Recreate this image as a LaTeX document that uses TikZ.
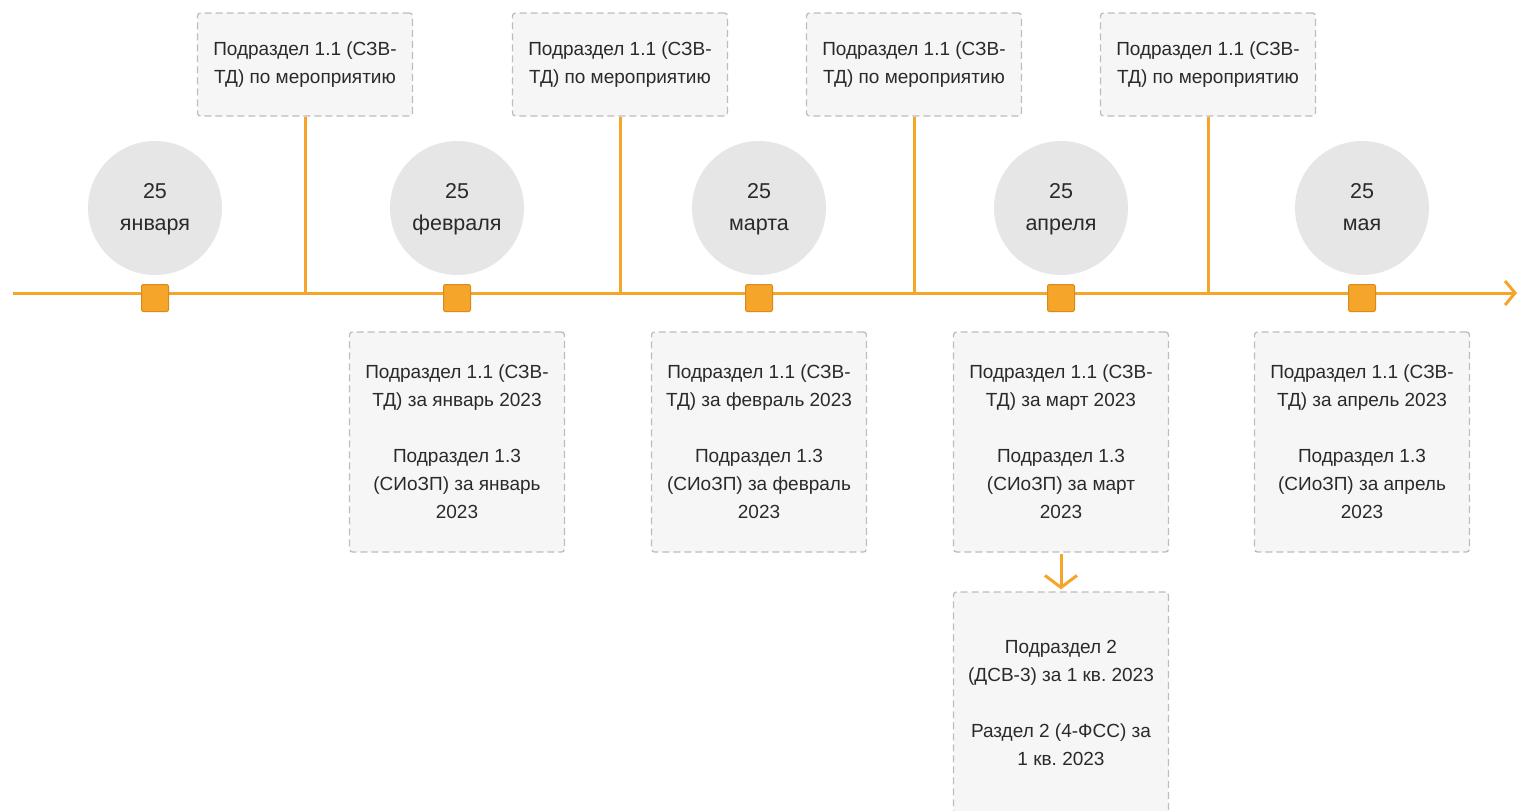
\documentclass[tikz,border=0pt]{standalone}
\usepackage{fontspec}
\setmainfont{Liberation Sans}
\usetikzlibrary{arrows.meta}
\frenchspacing
\definecolor{org}{HTML}{F5A52A}
\definecolor{orgd}{HTML}{D98A1A}
\definecolor{boxfill}{HTML}{F6F6F6}
\definecolor{boxline}{HTML}{BDBDBD}
\definecolor{circfill}{HTML}{E6E6E6}
\definecolor{txt}{HTML}{2A2A2A}
\begin{document}
\begin{tikzpicture}[x=1pt,y=-1pt,
  note/.style={draw=boxline, line width=1.3pt, dash pattern=on 7pt off 4pt, fill=boxfill, rounded corners=3pt,
    minimum width=215pt, inner sep=0pt, align=center, text=txt, font=\fontsize{19}{28}\selectfont\frenchspacing},
  datec/.style={circle, fill=circfill, minimum size=134pt, inner sep=0pt, align=center, text=txt, font=\fontsize{21.5}{32}\selectfont},
  sqmark/.style={draw=orgd, line width=1pt, fill=org, minimum size=27pt, inner sep=0pt, rounded corners=2pt},
  tline/.style={draw=org, line width=3pt}
]
\useasboundingbox (0,0) rectangle (1519,811);
% timeline
\coordinate (ts) at (13,293);
\coordinate (te) at (1517,293);
\draw[tline, -{Straight Barb[length=10pt,width=24pt,line width=3pt]}] (ts) -- (te);
% circles
\foreach \x/\m [count=\i] in {155/января,457/февраля,759/марта,1061/апреля,1362/мая}{
  \node[datec] (c\i) at (\x,208) {\strut 25\\\strut\m};
  \node[sqmark] (m\i) at (\x,298) {};
}
% top boxes
\foreach \x [count=\i] in {305,620,914,1208}{
  \node[note, minimum height=103pt] (t\i) at (\x,64.5) {Подраздел 1.1 (СЗВ-\\ТД) по мероприятию};
  \coordinate (j\i) at (\x,293);
  \draw[tline] (t\i.south) -- (j\i);
}
% bottom boxes
\node[note, minimum height=220pt] (b1) at (457,442) {Подраздел 1.1 (СЗВ-\\ТД) за январь 2023\\[28pt]Подраздел 1.3\\(СИоЗП) за январь\\2023};
\node[note, minimum height=220pt] (b2) at (759,442) {Подраздел 1.1 (СЗВ-\\ТД) за февраль 2023\\[28pt]Подраздел 1.3\\(СИоЗП) за февраль\\2023};
\node[note, minimum height=220pt] (b3) at (1061,442) {Подраздел 1.1 (СЗВ-\\ТД) за март 2023\\[28pt]Подраздел 1.3\\(СИоЗП) за март\\2023};
\node[note, minimum height=220pt] (b4) at (1362,442) {Подраздел 1.1 (СЗВ-\\ТД) за апрель 2023\\[28pt]Подраздел 1.3\\(СИоЗП) за апрель\\2023};
\node[note, minimum height=222pt] (b5) at (1061,703) {Подраздел 2\\(ДСВ-3) за 1 кв. 2023\\[28pt]Раздел 2 (4-ФСС) за\\1 кв. 2023};
\draw[tline, -{Straight Barb[length=12pt,width=32pt,line width=3pt]}] ([yshift=-1pt]b3.south) -- ([yshift=2pt]b5.north);
\end{tikzpicture}
\end{document}
